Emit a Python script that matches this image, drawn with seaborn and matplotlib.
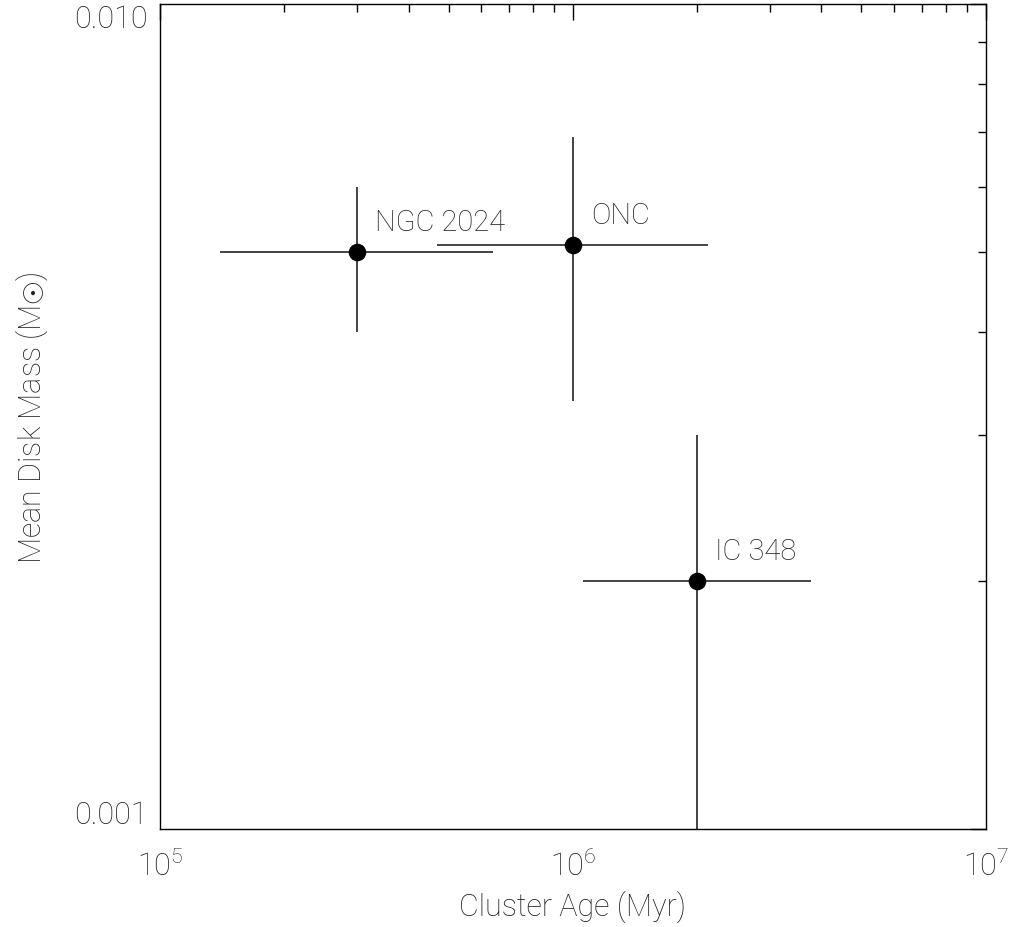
import numpy as np
import pandas as pd
import matplotlib
matplotlib.use("Agg")
import matplotlib.pyplot as plt
import seaborn as sns
from matplotlib.ticker import LogLocator, NullFormatter, FixedLocator

# ---- data ----
clusters = ["NGC 2024", "ONC", "IC 348"]
age = [3.0e5, 1.0e6, 2.0e6]
age_lo = [1.40e5, 4.7e5, 1.06e6]
age_hi = [6.4e5, 2.12e6, 3.78e6]
disk_mass = [0.0050, 0.0051, 0.0020]
mass_lo = [0.0040, 0.0033, 0.0010]
mass_hi = [0.0060, 0.0069, 0.0030]

x_ticks = [1e5, 1e6, 1e7]
x_ticklabels = ["$10^5$", "$10^6$", "$10^7$"]
y_ticks = [0.001, 0.010]
y_ticklabels = ["0.001", "0.010"]

df = pd.DataFrame({"cluster": clusters, "age": age, "mass": disk_mass})

sns.set_theme(style="white")
FONT = ["Roboto", "DejaVu Sans"]
plt.rcParams["font.family"] = FONT
plt.rcParams["font.weight"] = "light"
plt.rcParams["mathtext.fontset"] = "custom"
plt.rcParams["mathtext.rm"] = "Roboto:light"
plt.rcParams["mathtext.it"] = "Roboto:light"
plt.rcParams["mathtext.bf"] = "Roboto:light"
plt.rcParams["mathtext.fallback"] = "cm"
TXT = "#222222"
FS = 22

fig = plt.figure(figsize=(10.18, 9.28), dpi=100)
ax = fig.add_axes([160 / 1018, 1 - 830 / 928, 825.7 / 1018, 825 / 928])

# error bars
xerr = np.array([np.array(age) - np.array(age_lo), np.array(age_hi) - np.array(age)])
yerr = np.array([np.array(disk_mass) - np.array(mass_lo), np.array(mass_hi) - np.array(disk_mass)])
ax.errorbar(age, disk_mass, xerr=xerr, yerr=yerr, fmt="none",
            ecolor="#111111", elinewidth=1.1, capsize=0, zorder=2)

sns.scatterplot(data=df, x="age", y="mass", ax=ax, s=160, color="black",
                edgecolor="black", linewidth=0, zorder=3, legend=False)

for name, xv, yv in zip(clusters, age, disk_mass):
    ax.annotate(name, (xv, yv), xytext=(18, 16), textcoords="offset pixels",
                ha="left", va="bottom", fontsize=21, color=TXT,
                family=FONT, fontweight="light")

ax.set_xscale("log")
ax.set_yscale("log")
ax.set_xlim(1e5, 1e7)
ax.set_ylim(0.001, 0.010)

ax.xaxis.set_major_locator(FixedLocator(x_ticks))
ax.set_xticklabels(x_ticklabels)
ax.xaxis.set_minor_locator(LogLocator(base=10, subs=np.arange(2, 10)))
ax.xaxis.set_minor_formatter(NullFormatter())

ax.yaxis.set_major_locator(FixedLocator(y_ticks))
ax.set_yticklabels(y_ticklabels)
ax.yaxis.set_minor_locator(LogLocator(base=10, subs=np.arange(2, 10)))
ax.yaxis.set_minor_formatter(NullFormatter())

ax.tick_params(which="both", direction="in", top=True, right=True,
               color="black", width=1.0)
ax.tick_params(which="major", length=11.5)
ax.tick_params(which="minor", length=6)
ax.tick_params(axis="x", which="major", pad=15, labelsize=FS, labelcolor=TXT)
ax.tick_params(axis="y", which="major", pad=9, labelsize=FS, labelcolor=TXT)

ylabs = ax.get_yticklabels()
ylabs[0].set_va("bottom")
ylabs[1].set_va("top")

for sp in ax.spines.values():
    sp.set_visible(True)
    sp.set_color("black")
    sp.set_linewidth(1.0)

ax.set_xlabel("Cluster Age (Myr)", fontsize=FS, color=TXT, labelpad=6,
              family=FONT, fontweight="light")
ax.set_ylabel(r"Mean Disk Mass (M$\odot$)", fontsize=FS, color=TXT, labelpad=17,
              family=FONT, fontweight="light")

fig.savefig("out.png", dpi=100, facecolor="white")
